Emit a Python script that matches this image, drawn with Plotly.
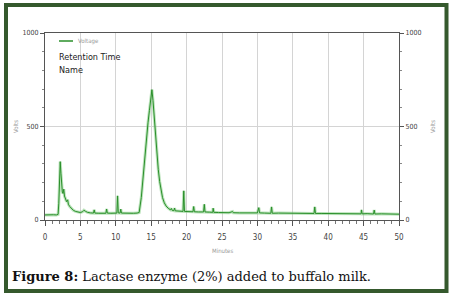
import plotly.graph_objects as go

# Chromatogram: retention time (minutes) vs signal (volts)
times = [0.0, 0.4, 0.8, 1.2, 1.6, 1.85, 1.95, 2.05, 2.15, 2.25, 2.35, 2.45, 2.55, 2.65, 2.75,
         2.9, 3.05, 3.2, 3.3, 3.5, 3.75, 4.0, 4.3, 4.6, 5.0, 5.3, 5.5, 5.7, 6.0, 6.4,
         6.85, 6.95, 7.05, 7.6, 8.2, 8.6, 8.7, 8.8, 9.3, 9.8, 10.15, 10.25, 10.35, 10.6, 10.7,
         10.8, 11.3, 11.9, 12.5, 13.0, 13.3, 13.6, 13.8, 14.05, 14.3, 14.55, 14.75, 14.95, 15.1, 15.25,
         15.45, 15.6, 15.8, 16.0, 16.2, 16.4, 16.6, 16.85, 17.1, 17.4, 17.7, 17.85, 17.95, 18.2, 18.3,
         18.4, 18.9, 19.5, 19.6, 19.7, 20.2, 20.9, 21.0, 21.1, 21.7, 22.4, 22.5, 22.6, 23.2, 23.7,
         23.75, 23.85, 24.5, 25.3, 26.0, 26.5, 26.6, 27.5, 28.4, 29.3, 30.0, 30.2, 30.3, 31.0, 31.9,
         32.0, 32.1, 33.0, 34.0, 35.0, 36.0, 37.0, 38.0, 38.1, 38.2, 39.0, 40.0, 40.5, 41.2, 42.0,
         43.0, 44.0, 44.65, 44.7, 44.8, 45.5, 46.4, 46.5, 46.6, 47.5, 48.5, 49.3, 50.0]
volts = [27, 28, 27, 28, 27, 30, 90, 220, 312, 250, 185, 150, 142, 165, 128,
         110, 98, 108, 84, 72, 60, 52, 46, 42, 40, 44, 52, 47, 41, 38,
         37, 54, 37, 36, 37, 36, 59, 37, 36, 37, 37, 129, 38, 37, 58,
         37, 36, 37, 36, 37, 40, 120, 210, 320, 425, 520, 586, 660, 697, 640,
         535, 450, 355, 270, 205, 155, 120, 92, 75, 63, 55, 62, 52, 50, 64,
         49, 47, 46, 156, 46, 45, 44, 72, 44, 43, 43, 84, 43, 42, 41,
         63, 41, 40, 40, 39, 45, 39, 38, 39, 37, 38, 66, 38, 37, 36,
         70, 36, 37, 36, 35, 36, 35, 35, 70, 35, 35, 34, 33, 35, 34,
         34, 33, 33, 54, 33, 34, 32, 53, 32, 33, 32, 33, 31]

x_ticks = [0, 5, 10, 15, 20, 25, 30, 35, 40, 45, 50]
y_ticks = [0, 500, 1000]

W, H = 451, 298
ML, MR, MT, MB = 45, 52, 33, 78
PW, PH = W - ML - MR, H - MT - MB

def px(xp):
    return (xp - ML) / PW

def py(yp):
    return (H - MB - yp) / PH

fig = go.Figure()
fig.add_trace(go.Scatter(x=times, y=volts, mode="lines",
                         line=dict(color="rgba(120,200,120,0.5)", width=3),
                         hoverinfo="skip", showlegend=False))
fig.add_trace(go.Scatter(x=times, y=volts, mode="lines",
                         line=dict(color="#2a8f2a", width=1),
                         showlegend=False))
# invisible trace to anchor the right-hand axis
fig.add_trace(go.Scatter(x=times, y=volts, mode="lines", yaxis="y2",
                         line=dict(color="rgba(0,0,0,0)", width=0),
                         hoverinfo="skip", showlegend=False))

COND = "DejaVu Sans Condensed, Liberation Sans Narrow, Liberation Sans, Arial"
xtickfont = dict(family=COND, size=8, color="#444")
ytickfont = dict(family=COND, size=7, color="#444")
fig.update_layout(
    width=W, height=H,
    margin=dict(l=ML, r=MR, t=MT, b=MB),
    paper_bgcolor="white", plot_bgcolor="white",
    xaxis=dict(range=[0, 50], tickvals=x_ticks, ticktext=[str(v) for v in x_ticks],
               showgrid=True, gridcolor="#d4d4d4", gridwidth=1,
               showline=True, linecolor="#555", linewidth=1, mirror=True,
               ticks="outside", ticklen=5, tickcolor="#555", tickwidth=1,
               minor=dict(dtick=1, ticks="outside", ticklen=3, tickcolor="#777", showgrid=False),
               ticklabelstandoff=4,
               tickfont=xtickfont, zeroline=False, fixedrange=True),
    yaxis=dict(range=[0, 1000], tickvals=y_ticks, ticktext=[str(v) for v in y_ticks],
               showgrid=True, gridcolor="#d4d4d4", gridwidth=1,
               showline=True, linecolor="#555", linewidth=1, mirror=True,
               ticks="outside", ticklen=4, tickcolor="#555", tickwidth=1,
               minor=dict(dtick=100, ticks="outside", ticklen=2, tickcolor="#888", showgrid=False),
               tickfont=ytickfont, zeroline=False, fixedrange=True),
    yaxis2=dict(range=[0, 1000], overlaying="y", side="right",
                tickvals=y_ticks, ticktext=[str(v) for v in y_ticks],
                showgrid=False, showline=False,
                ticks="outside", ticklen=4, tickcolor="#555", tickwidth=1,
                minor=dict(dtick=100, ticks="outside", ticklen=2, tickcolor="#888", showgrid=False),
                tickfont=ytickfont, zeroline=False, fixedrange=True),
)

small = dict(family=COND, size=6, color="#999")
label = dict(family=COND, size=9, color="#222")
ann = [
    dict(x=px(15), y=py(127), text="Volts", textangle=-90, xanchor="center", yanchor="middle", font=small),
    dict(x=px(432), y=py(127), text="Volts", textangle=-90, xanchor="center", yanchor="middle", font=small),
    dict(x=px(222), y=py(250), text="Minutes", xanchor="center", yanchor="middle", font=small),
    dict(x=px(76), y=py(41), text="Voltage", xanchor="left", yanchor="middle", font=small),
    dict(x=px(57), y=py(57), text="Retention Time", xanchor="left", yanchor="middle", font=label),
    dict(x=px(57), y=py(70), text="Name", xanchor="left", yanchor="middle", font=label),
    dict(x=px(10), y=py(276), xanchor="left", yanchor="middle",
         text="<b>Figure 8:</b> Lactase enzyme (2%) added to buffalo milk.",
         font=dict(family="DejaVu Serif, Liberation Serif, serif", size=13, color="#111")),
]
for a in ann:
    a.update(xref="paper", yref="paper", showarrow=False)
fig.update_layout(annotations=ann)

fig.update_layout(shapes=[
    dict(type="line", xref="paper", yref="paper", x0=px(59), x1=px(73), y0=py(41), y1=py(41),
         line=dict(color="#2a8f2a", width=1.5)),
    dict(type="rect", xref="paper", yref="paper", x0=px(6), x1=px(446.5), y0=py(5), y1=py(291),
         line=dict(color="#35592d", width=4), fillcolor="rgba(0,0,0,0)", layer="above"),
])

fig.write_html("out.html")
